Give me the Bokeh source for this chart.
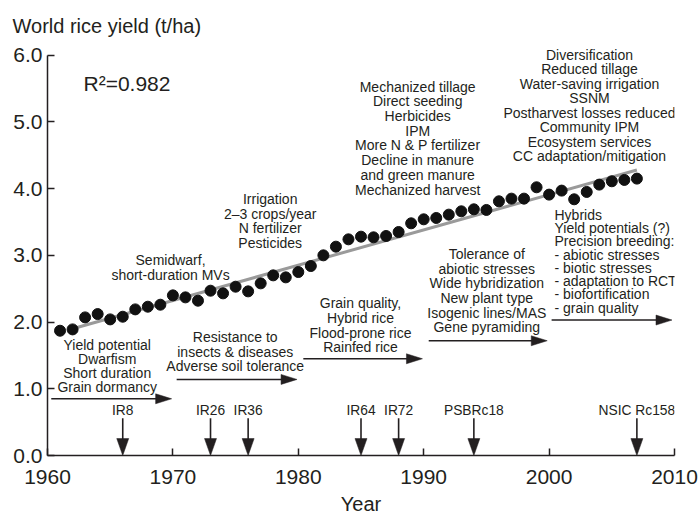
from bokeh.plotting import figure
from bokeh.models import ColumnDataSource, FixedTicker, NumeralTickFormatter, Range1d
from bokeh.core.properties import value
from bokeh.embed import file_html
from bokeh.resources import INLINE

# ---------------- data ----------------
years = list(range(1961, 2008))
yield_t_ha = [1.87, 1.89, 2.07, 2.12, 2.04, 2.08, 2.19, 2.23, 2.26, 2.40,
              2.37, 2.32, 2.47, 2.43, 2.53, 2.46, 2.58, 2.70, 2.67, 2.75,
              2.84, 3.00, 3.13, 3.24, 3.28, 3.27, 3.29, 3.35, 3.48, 3.54,
              3.56, 3.61, 3.66, 3.69, 3.68, 3.81, 3.85, 3.85, 4.02, 3.91,
              3.97, 3.84, 3.95, 4.06, 4.11, 4.13, 4.15]

trend_years = [1962, 2007]
trend_vals = [1.90, 4.28]
r_squared = "R\u00b2=0.982"

# breeding eras (horizontal arrows)
era_start = [1960.3, 1970.3, 1980.4, 1990.4, 2000.2]
era_end = [1969.9, 1979.9, 1989.9, 1999.85, 2009.8]
era_level = [0.85, 1.14, 1.45, 1.72, 2.03]

# released varieties (vertical arrows)
variety_names = ["IR8", "IR26", "IR36", "IR64", "IR72", "PSBRc18", "NSIC Rc158"]
variety_years = [1966, 1973, 1976, 1985, 1988, 1994, 2007]

y_ticks = [0, 1, 2, 3, 4, 5, 6]
x_ticks = [1960, 1970, 1980, 1990, 2000, 2010]

# annotation texts
notes = [
    ["Yield potential", "Dwarfism", "Short duration", "Grain dormancy"],
    ["Semidwarf,", "short-duration MVs"],
    ["Resistance to", "insects & diseases", "Adverse soil tolerance"],
    ["Irrigation", "2\u20133 crops/year", "N fertilizer", "Pesticides"],
    ["Grain quality,", "Hybrid rice", "Flood-prone rice", "Rainfed rice"],
    ["Tolerance of", "abiotic stresses", "Wide hybridization", "New plant type",
     "Isogenic lines/MAS", "Gene pyramiding"],
    ["Mechanized tillage", "Direct seeding", "Herbicides", "IPM",
     "More N & P fertilizer", "Decline in manure", "and green manure",
     "Mechanized harvest"],
    ["Diversification", "Reduced tillage", "Water-saving irrigation", "SSNM",
     "Postharvest losses reduced", "Community IPM", "Ecosystem services",
     "CC adaptation/mitigation"],
    ["Hybrids", "Yield potentials (?)", "Precision breeding:",
     "- abiotic stresses", "- biotic stresses", "- adaptation to RCT",
     "- biofortification", "- grain quality"],
]

# ---------------- layout ----------------
INK = "#231f20"
FONT = "Liberation Sans"
NOTE_SIZE = "14px"
W, H = 700, 517
LEFT, RIGHT, TOP, BOTTOM = 47, 26, 45, 61
X0, X1 = 1960, 2010
PX_X = (W - LEFT - RIGHT) / (X1 - X0)
PX_Y = 401.3 / 6.0                      # pixels per t/ha
Y0 = 0.0
Y1 = (H - TOP - BOTTOM) / PX_Y          # a little head-room above 6.0

# anchor of first line (x, y in data units), line spacing (px), alignment
note_layout = [
    (1964.76, 1.66, 14.2, "center"),
    (1969.81, 2.93, 15.0, "center"),
    (1974.97, 1.77, 14.5, "center"),
    (1977.76, 3.84, 14.45, "center"),
    (1984.96, 2.28, 14.67, "center"),
    (1995.03, 3.02, 14.66, "center"),
    (1989.52, 5.53, 14.71, "center"),
    (2003.22, 6.01, 14.57, "center"),
    (2000.43, 3.61, 13.3, "left"),
]

p = figure(width=W, height=H, output_backend="svg", toolbar_location=None,
           x_range=Range1d(X0, X1), y_range=Range1d(Y0, Y1),
           min_border_left=LEFT, min_border_right=RIGHT,
           min_border_top=TOP, min_border_bottom=BOTTOM,
           title="World rice yield (t/ha)")
p.outline_line_color = None
p.grid.visible = False
p.background_fill_color = "white"
p.border_fill_color = "white"

p.title.align = "left"
p.title.offset = -35
p.title.standoff = 18
p.title.text_font = FONT
p.title.text_font_size = "20px"
p.title.text_font_style = "normal"
p.title.text_color = INK

for ax in (p.xaxis[0], p.yaxis[0]):
    ax.axis_line_color = INK
    ax.axis_line_width = 1.5
    ax.major_tick_line_color = INK
    ax.major_tick_line_width = 1.5
    ax.major_tick_in = 7
    ax.major_tick_out = 0
    ax.minor_tick_line_color = None
    ax.major_label_text_font = FONT
    ax.major_label_text_font_size = "21px"
    ax.major_label_text_color = INK

p.xaxis.ticker = FixedTicker(ticks=x_ticks)
p.xaxis.major_label_standoff = 14
p.xaxis.axis_label = "Year"
p.xaxis.axis_label_standoff = 6
p.xaxis.axis_label_text_font = FONT
p.xaxis.axis_label_text_font_size = "20px"
p.xaxis.axis_label_text_font_style = "normal"
p.xaxis.axis_label_text_color = INK

p.yaxis.ticker = FixedTicker(ticks=y_ticks)
p.yaxis.bounds = (y_ticks[0], y_ticks[-1])
p.yaxis.formatter = NumeralTickFormatter(format="0.0")
p.yaxis.major_label_standoff = 5

# trend line and yearly yields
p.line(trend_years, trend_vals, line_color="#9a9a9a", line_width=3)
p.scatter(years, yield_t_ha, size=11, fill_color="#111111", line_color="#111111")

# era arrows
hl, hh = 16 / PX_X, 5 / PX_Y
p.segment(x0=era_start, y0=era_level, x1=[e - hl * 0.5 for e in era_end], y1=era_level,
          line_color=INK, line_width=1.6)
p.patches(xs=[[e - hl, e, e - hl] for e in era_end],
          ys=[[lv - hh, lv, lv + hh] for lv in era_level],
          fill_color=INK, line_color=INK, line_width=0.5)

# variety release arrows
shaft_top = 0.56
vl, vw = 17 / PX_Y, 6 / PX_X
p.segment(x0=variety_years, y0=[shaft_top] * len(variety_years),
          x1=variety_years, y1=[vl * 0.5] * len(variety_years),
          line_color=INK, line_width=1.6)
p.patches(xs=[[v - vw, v, v + vw] for v in variety_years],
          ys=[[vl, 0, vl] for _ in variety_years],
          fill_color=INK, line_color=INK, line_width=0.5)
p.text(x=variety_years, y=[0.68] * len(variety_years), text=variety_names,
       text_font=value(FONT), text_font_size="13.8px", text_color=INK,
       text_align="center", text_baseline="middle")

# annotation blocks, one glyph row per line
for lines, (nx, ny, step, align) in zip(notes, note_layout):
    src = ColumnDataSource(dict(x=[nx] * len(lines), y=[ny] * len(lines), text=lines,
                                off=[i * step for i in range(len(lines))]))
    p.text(x="x", y="y", text="text", y_offset="off", source=src,
           text_font=value(FONT), text_font_size=NOTE_SIZE, text_color=INK,
           text_align=align, text_baseline="middle")

p.text(x=[1962.87], y=[5.58], text=[r_squared], text_font=value(FONT),
       text_font_size="21px", text_color=INK, text_baseline="middle")

open("out.html", "w").write(file_html(p, INLINE))
